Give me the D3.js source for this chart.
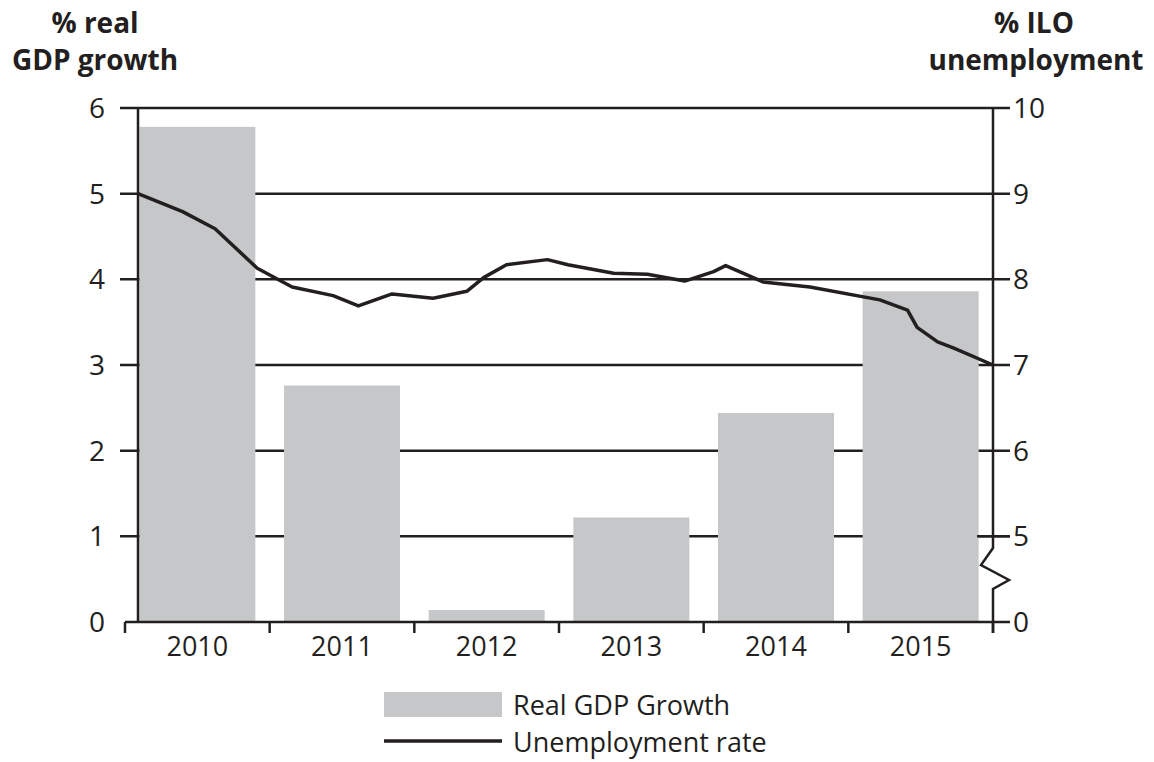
<!DOCTYPE html>
<meta charset="utf-8">
<html>
<script src="https://d3js.org/d3.v7.min.js"></script>
<style>
    body { margin: 0; background: #fff; }
    text { font-family: "Open Sans", Lato, sans-serif; fill: #231f20; }
</style>
<body>
<div id="chart"></div>
<script>

    // Data
    var years = ["2010", "2011", "2012", "2013", "2014", "2015"];
    var gdpGrowth = [5.78, 2.76, 0.14, 1.22, 2.44, 3.86];

    // unemployment line, month index from Jan 2010 (0) to Dec 2015 (71)
    var unempMonth = [0, 3.7, 6.4, 9.9, 12.8, 16.2, 18.3, 21.1, 24.5, 27.3, 28.7, 30.6, 34, 35.7, 39.5, 42.3, 45.4, 47.8, 48.8, 51.9, 55.8, 61.6, 63.9, 64.7, 66.4, 67.7, 71];
    var unempRate = [9.0, 8.79, 8.59, 8.13, 7.91, 7.81, 7.69, 7.83, 7.78, 7.86, 8.02, 8.17, 8.23, 8.17, 8.07, 8.06, 7.98, 8.09, 8.16, 7.97, 7.91, 7.76, 7.64, 7.44, 7.27, 7.2, 7.0];

    var leftTicks = [0, 1, 2, 3, 4, 5, 6];
    var rightTicks = [5, 6, 7, 8, 9, 10];

    var W = 1154, H = 762;
    var ink = "#231f20", barGrey = "#c6c7c9";

    var svg = d3.select("#chart").append("svg")
        .attr("width", W).attr("height", H);

    // Scales
    var x = d3.scaleBand().domain(years).range([125, 993])
        .paddingInner(0.198).paddingOuter(0.099);
    var yL = d3.scaleLinear().domain([0, 6]).range([622, 108]);
    // right axis has a break: 5..10 shares the grid of 1..6, 0 sits at the bottom
    var yR = d3.scaleLinear().domain([4, 10]).range([622, 108]);
    var xm = d3.scaleLinear().domain([0, 71]).range([138, 993]);

    // Grid lines
    svg.append("g").selectAll("line")
        .data(leftTicks.slice(1)).enter().append("line")
        .attr("x1", 120).attr("x2", 1010)
        .attr("y1", d => yL(d)).attr("y2", d => yL(d))
        .attr("stroke", ink).attr("stroke-width", 2.5);

    // Bars
    svg.append("g").selectAll("rect")
        .data(years).enter().append("rect")
        .attr("x", d => x(d))
        .attr("width", x.bandwidth())
        .attr("y", (d, i) => yL(gdpGrowth[i]))
        .attr("height", (d, i) => yL(0) - yL(gdpGrowth[i]))
        .attr("fill", barGrey);

    // Left axis
    svg.append("line")
        .attr("x1", 138).attr("x2", 138)
        .attr("y1", yL(6)).attr("y2", yL(0))
        .attr("stroke", ink).attr("stroke-width", 2.5);
    svg.append("g").selectAll("text")
        .data(leftTicks).enter().append("text")
        .attr("x", 105).attr("y", d => yL(d))
        .attr("dy", "0.36em")
        .attr("text-anchor", "end")
        .style("font-size", "28px")
        .text(d => d);

    // X axis
    svg.append("line")
        .attr("x1", 125).attr("x2", 1010)
        .attr("y1", yL(0)).attr("y2", yL(0))
        .attr("stroke", ink).attr("stroke-width", 2.5);
    var tickXs = years.map(d => x(d) - x.step() * x.paddingInner() / 2 - (d === "2010" ? x.step() * (x.paddingOuter() - x.paddingInner() / 2) : 0));
    tickXs.push(993);
    svg.append("g").selectAll("line")
        .data(tickXs).enter().append("line")
        .attr("x1", d => d).attr("x2", d => d)
        .attr("y1", yL(0)).attr("y2", yL(0) + 11)
        .attr("stroke", ink).attr("stroke-width", 2.5);
    svg.append("g").selectAll("text")
        .data(years).enter().append("text")
        .attr("x", d => x(d) + x.bandwidth() / 2)
        .attr("y", 656)
        .attr("text-anchor", "middle")
        .style("font-size", "27px")
        .text(d => d);

    // Right axis with break
    var brk = [[993, yR(10)], [993, 548], [981, 565], [1009, 580], [993, 589], [993, yL(0) + 11]];
    svg.append("path")
        .attr("d", d3.line()(brk))
        .attr("fill", "none")
        .attr("stroke", ink).attr("stroke-width", 2.5)
        .attr("stroke-linejoin", "miter");
    svg.append("line")
        .attr("x1", 977).attr("x2", 1010)
        .attr("y1", yR(5)).attr("y2", yR(5))
        .attr("stroke", ink).attr("stroke-width", 2.5);
    svg.append("g").selectAll("text")
        .data([0].concat(rightTicks)).enter().append("text")
        .attr("x", 1013)
        .attr("y", d => d === 0 ? yL(0) : yR(d))
        .attr("dy", "0.36em")
        .style("font-size", "28px")
        .text(d => d);

    // Unemployment line
    var line = d3.line()
        .x(d => xm(d[0]))
        .y(d => yR(d[1]));
    svg.append("path")
        .datum(unempMonth.map((m, i) => [m, unempRate[i]]))
        .attr("d", line)
        .attr("fill", "none")
        .attr("stroke", ink)
        .attr("stroke-width", 3.5)
        .attr("stroke-linejoin", "round");

    // Axis titles
    var leftTitle = svg.append("text").attr("text-anchor", "middle")
        .style("font-size", "28px").style("font-weight", "bold");
    leftTitle.append("tspan").attr("x", 95).attr("y", 33).text("% real");
    leftTitle.append("tspan").attr("x", 95).attr("y", 70).text("GDP growth");

    var rightTitle = svg.append("text").attr("text-anchor", "middle")
        .style("font-size", "28px").style("font-weight", "bold");
    rightTitle.append("tspan").attr("x", 1034).attr("y", 33).text("% ILO");
    rightTitle.append("tspan").attr("x", 1036).attr("y", 70).text("unemployment");

    // Legend
    svg.append("rect")
        .attr("x", 384).attr("y", 692)
        .attr("width", 118).attr("height", 25)
        .attr("fill", barGrey);
    svg.append("line")
        .attr("x1", 384).attr("x2", 502)
        .attr("y1", 741).attr("y2", 741)
        .attr("stroke", ink).attr("stroke-width", 3.5);
    svg.append("text").attr("x", 513).attr("y", 715)
        .style("font-size", "27px").text("Real GDP Growth");
    svg.append("text").attr("x", 513).attr("y", 752)
        .style("font-size", "27px").text("Unemployment rate");

</script>
</body>
</html>
